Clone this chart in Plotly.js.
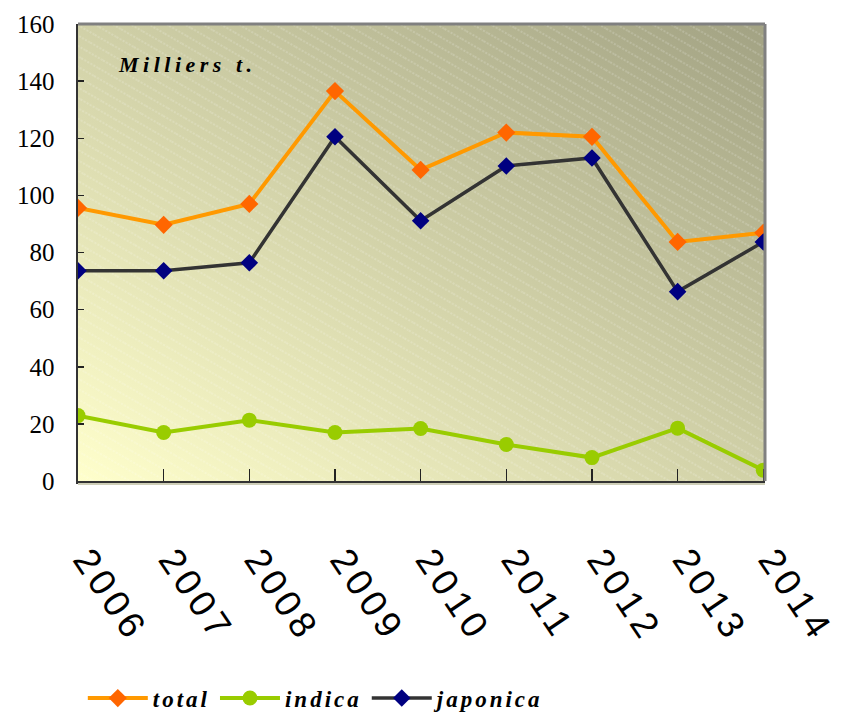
<!DOCTYPE html>
<html>
<head>
<meta charset="utf-8">
<script src="https://cdn.plot.ly/plotly-3.0.1.min.js"></script>
<style>
html,body{margin:0;padding:0;background:#fff;}
#chart{width:841px;height:714px;}
.legendtext{letter-spacing:3px;}
.annotation-text{letter-spacing:4.5px;}
.xtick text{letter-spacing:5px;}
</style>
</head>
<body>
<div id="chart"></div>
<script>
var years = ["2006","2007","2008","2009","2010","2011","2012","2013","2014"];
var totalValues = [95.6, 89.7, 97.0, 136.5, 108.9, 122.0, 120.5, 83.7, 86.9];
var indicaValues = [22.9, 17.0, 21.3, 17.0, 18.4, 12.8, 8.2, 18.5, 3.8];
var japonicaValues = [73.6, 73.6, 76.4, 120.5, 91.1, 110.3, 113.1, 66.3, 83.7];
var seriesNames = ["total", "indica", "japonica"];
var unitLabel = "Milliers t.";

var bgSvg = "<svg xmlns='http://www.w3.org/2000/svg' width='687' height='457' viewBox='0 0 687 457' preserveAspectRatio='none'>" +
  "<defs><linearGradient id='g' x1='0' y1='1' x2='1' y2='0'>" +
  "<stop offset='0' stop-color='#FFFFCC'/><stop offset='1' stop-color='#A2A283'/></linearGradient>" +
  "<pattern id='h' patternUnits='userSpaceOnUse' width='20' height='9' patternTransform='rotate(30)'>" +
  "<line x1='0' y1='1' x2='20' y2='1' stroke='white' stroke-opacity='0.35' stroke-width='1' stroke-dasharray='2,1.5'/></pattern></defs>" +
  "<rect width='687' height='457' fill='url(#g)'/><rect width='687' height='457' fill='url(#h)'/></svg>";
var bgUri = "data:image/svg+xml;charset=utf-8," + encodeURIComponent(bgSvg);

var SERIF = "Liberation Serif";
var SANS = "Liberation Sans";

var traces = [
  {x: years, y: totalValues, name: seriesNames[0], type: "scatter", mode: "lines+markers",
   line: {color: "#FF9900", width: 4}, marker: {symbol: "diamond", size: 14, color: "#FF6600"}},
  {x: years, y: indicaValues, name: seriesNames[1], type: "scatter", mode: "lines+markers",
   line: {color: "#99CC00", width: 4}, marker: {symbol: "circle", size: 15, color: "#99CC00"}},
  {x: years, y: japonicaValues, name: seriesNames[2], type: "scatter", mode: "lines+markers",
   line: {color: "#333333", width: 3.5}, marker: {symbol: "diamond", size: 13.5, color: "#000080"}}
];

var layout = {
  width: 841, height: 714,
  margin: {l: 78, r: 76, t: 24, b: 233, autoexpand: false},
  paper_bgcolor: "#ffffff",
  plot_bgcolor: "rgba(0,0,0,0)",
  font: {family: SERIF},
  showlegend: true,
  legend: {orientation: "h", x: 0.007, xanchor: "left", y: -0.475, yanchor: "middle",
    font: {family: SERIF, size: 23, color: "#000", weight: "bold", style: "italic"},
    itemwidth: 60, bgcolor: "rgba(0,0,0,0)"},
  xaxis: {type: "category", range: [0, 8.02], showgrid: false, zeroline: false, automargin: false,
    showline: true, linecolor: "#333333", linewidth: 2.5,
    ticks: "inside", ticklen: 12, tickcolor: "#222", tickwidth: 1.5,
    tickangle: 56, ticklabelstandoff: 40, ticklabelshift: 9,
    tickfont: {family: SANS, size: 37, color: "#000"}},
  yaxis: {range: [0, 160], dtick: 20, showgrid: false, zeroline: false, automargin: false,
    showline: true, linecolor: "#333333", linewidth: 2.5,
    ticks: "inside", ticklen: 6, tickcolor: "#222", tickwidth: 1.5,
    ticklabelstandoff: 16,
    tickfont: {family: SERIF, size: 25, color: "#000"}},
  images: [{source: bgUri, xref: "paper", yref: "paper", x: 0, y: 1, sizex: 1, sizey: 1,
    xanchor: "left", yanchor: "top", sizing: "stretch", layer: "below"}],
  shapes: [
    {type: "line", xref: "paper", yref: "paper", x0: 0, x1: 1, y0: 1, y1: 1, line: {color: "#808080", width: 3}},
    {type: "line", xref: "paper", yref: "paper", x0: 1, x1: 1, y0: 0, y1: 1, line: {color: "#808080", width: 3}},
    {type: "line", xref: "paper", yref: "paper", ysizemode: "pixel", yanchor: 0, x0: 0, x1: 1, y0: -3, y1: -3, line: {color: "#cfcfb8", width: 2}}
  ],
  annotations: [{text: "<b><i>" + unitLabel + "</i></b>", xref: "paper", yref: "paper",
    x: 0.055, y: 0.912, xanchor: "left", yanchor: "middle", showarrow: false,
    font: {family: SERIF, size: 22, color: "#000"}}]
};

Plotly.newPlot("chart", traces, layout, {displayModeBar: false, staticPlot: true});
</script>
</body>
</html>
